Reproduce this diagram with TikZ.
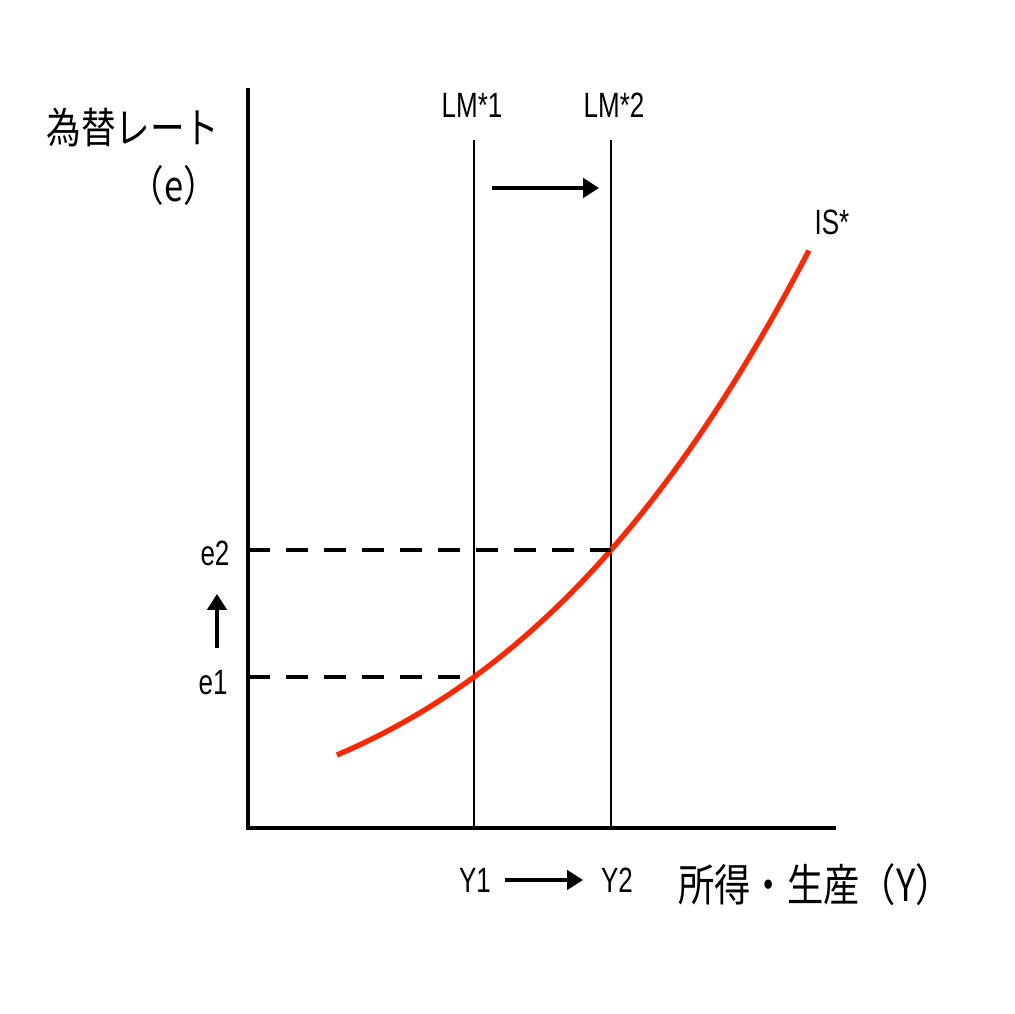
\documentclass[tikz,border=0pt]{standalone}
\usepackage{fontspec}
\setmainfont{Liberation Sans}[FakeStretch=0.74]
\newfontfamily\jpfont{Noto Sans CJK JP}[FakeStretch=0.82]
\usepackage{xcolor}
\usetikzlibrary{arrows.meta, positioning}
\definecolor{isred}{RGB}{255,38,0}

\begin{document}
\begin{tikzpicture}[>={Triangle[length=4.5pt, width=5.5pt]},
    axis/.style={line width=1.2pt},
    curve/.style={line width=0.6pt},
    guide/.style={line width=1.0pt, dash pattern=on 6.4pt off 4.4pt},
    shiftarrow/.style={line width=0.9pt, ->},
    lbl/.style={font=\fontsize{10}{12}\selectfont, inner sep=1pt},
    jplbl/.style={font=\jpfont\fontsize{12}{14}\selectfont, inner sep=1pt}]
    \useasboundingbox (0,0) rectangle (10.14,10.14);

    % --- 座標軸 ---
    \coordinate (O) at (2.48,1.86);
    \coordinate (ytop) at (2.48,9.26);
    \coordinate (xend) at (8.36,1.86);
    \draw[axis] (ytop) -- (O) -- (xend);

    % 軸ラベル
    \node[jplbl] (ylabel) at (1.33,8.86) {為替レート};
    \node[jplbl] (yvar) at (1.74,8.29) {（e）};
    \node[jplbl, font=\jpfont\fontsize{12.6}{14}\selectfont] (xlabel) at (8.15,1.29) {所得・生産（Y）};

    % --- LM*曲線（垂直）---
    \coordinate (lmonetop) at (4.74,8.74);
    \coordinate (lmtwotop) at (6.11,8.74);
    \draw[curve] (lmonetop) -- (lmonetop |- O);
    \draw[curve] (lmtwotop) -- (lmtwotop |- O);
    \node[lbl] (lmone) at (4.72,9.09) {LM*1};
    \node[lbl] (lmtwo) at (6.14,9.09) {LM*2};

    % LMのシフト
    \coordinate (shiftfrom) at (4.92,8.26);
    \coordinate (shiftto) at (5.99,8.26);
    \draw[shiftarrow] (shiftfrom) -- (shiftto);

    % --- IS*曲線 ---
    \draw[isred, line width=1.5pt] plot[domain=0:4.72, samples=60]
        ({3.37+\x}, {2.59+0.4264*\x+0.0913*\x*\x+0.0095*\x*\x*\x});
    \node[lbl] (is) at (8.32,7.92) {IS*};

    % --- 均衡点と破線 ---
    \coordinate (Eone) at (4.74,3.37);
    \coordinate (Etwo) at (6.11,4.64);
    \draw[guide] (O |- Etwo) -- (Etwo);
    \draw[guide] (O |- Eone) -- (Eone);

    % 為替レートの変化
    \node[lbl] (etwo) at (2.15,4.61) {e2};
    \node[lbl] (eone) at (2.13,3.31) {e1};
    \coordinate (eupfrom) at (2.17,3.66);
    \coordinate (eupto) at (2.17,4.20);
    \draw[shiftarrow] (eupfrom) -- (eupto);

    % 所得の変化
    \node[lbl] (yone) at (4.75,1.34) {Y1};
    \node[lbl] (ytwo) at (6.17,1.34) {Y2};
    \coordinate (yfrom) at (5.05,1.34);
    \coordinate (yto) at (5.83,1.34);
    \draw[shiftarrow] (yfrom) -- (yto);

\end{tikzpicture}
\end{document}
